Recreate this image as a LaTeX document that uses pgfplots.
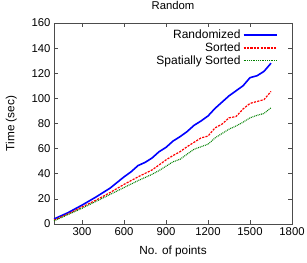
\documentclass[border=0pt]{standalone}
\usepackage{pgfplots}
\pgfplotsset{compat=1.18}
\usepackage{fontspec}
\setmainfont{Liberation Sans}
\usetikzlibrary{calc}
\begin{document}
\begin{tikzpicture}
\begin{axis}[
  scale only axis,
  width=238pt, height=201pt,
  xmin=100, xmax=1800, ymin=0, ymax=160,
  xtick={300,600,...,1800}, ytick={0,20,...,160},
  minor tick num=0,
  tick align=inside,
  major tick length=4pt,
  axis line style={draw=black!70, line width=0.8pt},
  tick style={draw=black!70, line width=0.6pt},
  /pgf/number format/assume math mode=true,
  /pgf/number format/1000 sep={},
  tick label style={font=\fontsize{11.3}{13}\selectfont},
  xlabel={No. of points}, ylabel={Time (sec)},
  label style={font=\fontsize{11.8}{13}\selectfont},
  title={Random},
  title style={font=\fontsize{11.3}{13}\selectfont, yshift=4pt},
  xlabel style={yshift=-4pt},
  ylabel style={yshift=8pt},
  legend style={draw=none, fill=none, inner sep=0pt, at={(0.94,0.975)}, anchor=north east,
    font=\fontsize{12}{13}\selectfont, row sep=-1.5pt},
  legend cell align=right,
  legend plot pos=right,
]
\addplot[blue, line width=1.6pt,
  legend image code/.code={\draw[blue, line width=2pt] (0pt,0.5pt) -- (33pt,0.5pt);}] coordinates {
(100,4) (200,9) (300,15) (400,21.5) (500,28.5) (600,37.5) (650,41.5) (700,46.5) (750,49) (800,52.5) (850,57.5) (900,61) (950,66) (1000,69.5) (1050,73.5) (1100,78.5) (1150,82) (1200,86) (1250,92) (1300,97) (1350,102) (1400,106) (1450,110) (1500,116.5) (1550,118) (1600,121.5) (1650,128)
};
\addlegendentry{Randomized}
\addplot[red, line width=1.2pt, dash pattern=on 2.2pt off 1.2pt,
  legend image code/.code={\draw[red, line width=1.4pt, dash pattern=on 2.2pt off 1.2pt] (0pt,0pt) -- (33pt,0pt);}] coordinates {
(100,3) (200,8) (300,13.5) (400,19) (500,25) (600,31.5) (700,37.5) (800,43) (850,47) (900,51) (950,54.5) (1000,57.5) (1050,61.5) (1100,65) (1150,68.5) (1200,70) (1250,76.5) (1300,79.5) (1350,84.5) (1400,85.5) (1450,91.5) (1500,96) (1550,97.5) (1600,99) (1650,105.5)
};
\addlegendentry{Sorted}
\addplot[green!50!black, line width=1.1pt, dash pattern=on 0.9pt off 0.9pt,
  legend image code/.code={\draw[green!50!black, line width=1.3pt, dash pattern=on 0.9pt off 0.9pt] (0pt,0pt) -- (33pt,0pt);}] coordinates {
(100,2.5) (200,7.5) (300,12.5) (400,18) (500,23.5) (600,29) (700,34.5) (800,39.5) (850,42.5) (900,46) (950,49.5) (1000,51.5) (1050,55.5) (1100,59.5) (1150,61.5) (1200,63.5) (1250,68.5) (1300,72) (1350,75.5) (1400,78) (1450,81) (1500,84.5) (1550,86.5) (1600,88) (1650,92.5)
};
\addlegendentry{Spatially Sorted}
\end{axis}
\pgfresetboundingbox
\path ($(current axis.south west)+(-54pt,-38pt)$) rectangle ($(current axis.north east)+(15pt,23pt)$);
\end{tikzpicture}
\end{document}
